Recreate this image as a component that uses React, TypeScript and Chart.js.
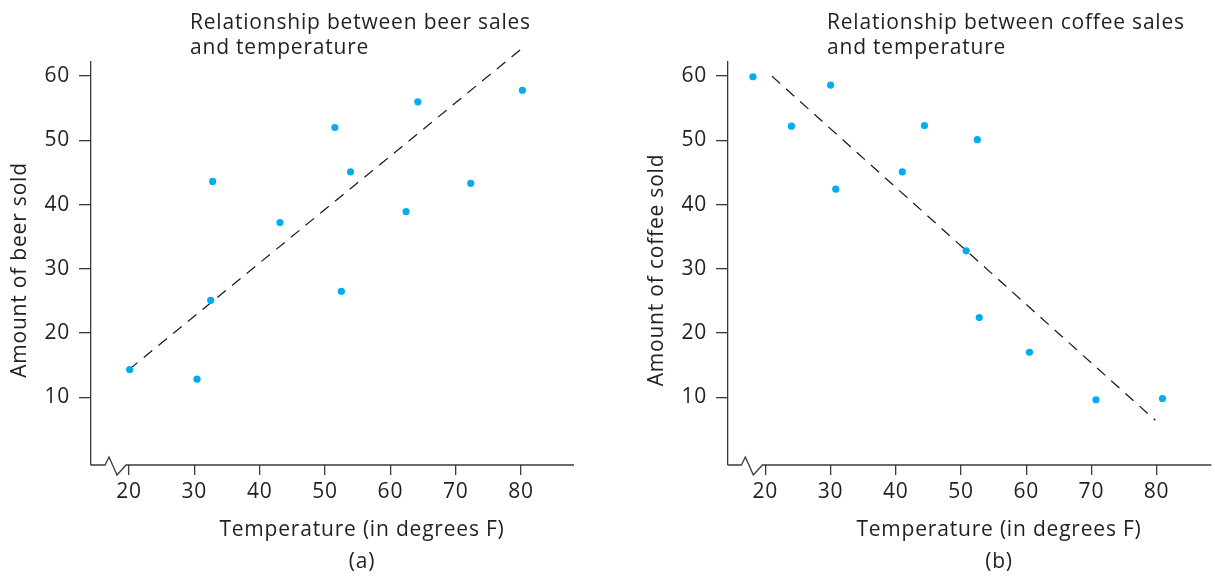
import React, { useEffect, useRef } from "react";
import { Chart, registerables } from "chart.js";

Chart.register(...registerables);

// ---- data ----
const xTickValues = [20, 30, 40, 50, 60, 70, 80];
const yTickValues = [10, 20, 30, 40, 50, 60];

const beerTemps = [20.1, 30.4, 32.5, 32.8, 43.1, 51.5, 52.5, 53.9, 62.4, 64.2, 72.3, 80.2];
const beerSold = [14.3, 12.8, 25.1, 43.6, 37.2, 52.0, 26.5, 45.1, 38.9, 56.0, 43.3, 57.8];
const beerTrendX = [20, 80.5];
const beerTrendY = [14.3, 64.6];

const coffeeTemps = [18.1, 24.0, 30.0, 30.8, 41.0, 44.4, 50.8, 52.5, 52.8, 60.5, 70.7, 80.9];
const coffeeSold = [59.9, 52.2, 58.6, 42.4, 45.1, 52.3, 32.8, 50.1, 22.4, 17.0, 9.6, 9.8];
const coffeeTrendX = [21, 79.8];
const coffeeTrendY = [60, 6.4];

const beerTitle = ["Relationship between beer sales", "and temperature"];
const coffeeTitle = ["Relationship between coffee sales", "and temperature"];
const xAxisTitle = "Temperature (in degrees F)";

// ---- styles ----
const FONT = "'Open Sans', sans-serif";
const FONT_SIZE = 21;
const SPACING = "0.8px";
const TEXT = "#231f20";
const AXIS = "#3a3a3a";
const DOT = "#00aeef";

const panelText = {
  id: "panelText",
  beforeDraw(chart: any) {
    (chart.ctx as any).letterSpacing = SPACING;
  },
  afterDraw(chart: any, _args: any, opts: any) {
    const { ctx, chartArea } = chart;
    const x = chart.scales.x;
    ctx.save();
    // x axis with break zigzag
    const y0 = chartArea.bottom;
    const p20 = x.getPixelForValue(xTickValues[0]);
    ctx.strokeStyle = AXIS;
    ctx.lineWidth = 1.3;
    ctx.beginPath();
    ctx.moveTo(chartArea.left, y0);
    ctx.lineTo(p20 - 24, y0);
    ctx.lineTo(p20 - 20, y0 - 8);
    ctx.lineTo(p20 - 12, y0 + 10);
    ctx.lineTo(p20 - 3, y0);
    ctx.lineTo(chartArea.right, y0);
    ctx.stroke();

    ctx.fillStyle = TEXT;
    ctx.font = `${FONT_SIZE}px ${FONT}`;
    // title
    ctx.textAlign = "left";
    ctx.textBaseline = "alphabetic";
    const tl = chartArea.left + 99;
    (opts.title as string[]).forEach((line, i) => {
      ctx.fillText(line, tl, 29 + i * 25);
    });
    // x title and caption
    ctx.textAlign = "center";
    ctx.textBaseline = "middle";
    const cx = chartArea.left + 271;
    ctx.fillText(opts.xTitle, cx, 530);
    ctx.fillText(opts.caption, cx, 562);
    // y title
    ctx.translate(chartArea.left - 71, 270);
    ctx.rotate(-Math.PI / 2);
    ctx.fillText(opts.yTitle, 0, 0);
    ctx.restore();
    (ctx as any).letterSpacing = "0px";
  },
};

type PanelProps = {
  left: number;
  width: number;
  xs: number[];
  ys: number[];
  tx: number[];
  ty: number[];
  title: string[];
  yTitle: string;
  caption: string;
  xMin: number;
  xMax: number;
  padRight: number;
};

function Panel(p: PanelProps) {
  const ref = useRef<HTMLCanvasElement>(null);
  useEffect(() => {
    const chart = new Chart(ref.current as HTMLCanvasElement, {
      type: "scatter",
      data: {
        datasets: [
          {
            data: p.xs.map((x, i) => ({ x, y: p.ys[i] })),
            backgroundColor: DOT,
            borderColor: DOT,
            pointRadius: 3.6,
            pointBorderWidth: 0,
            pointHoverRadius: 3.6,
          } as any,
          {
            type: "line",
            data: p.tx.map((x, i) => ({ x, y: p.ty[i] })),
            borderColor: "#1a1a1a",
            borderWidth: 1.25,
            borderDash: [11, 8],
            pointRadius: 0,
            showLine: true,
            fill: false,
            clip: false,
            tension: 0,
          } as any,
        ],
      },
      options: {
        responsive: false,
        animation: false,
        events: [],
        layout: { padding: { top: 62, right: p.padRight, bottom: 0, left: 0 } },
        plugins: {
          legend: { display: false },
          tooltip: { enabled: false },
          title: { display: false },
          panelText: { title: p.title, xTitle: xAxisTitle, caption: p.caption, yTitle: p.yTitle },
        } as any,
        scales: {
          x: {
            type: "linear",
            min: p.xMin,
            max: p.xMax,
            afterBuildTicks: (s: any) => {
              s.ticks = xTickValues.map((v) => ({ value: v }));
            },
            afterFit: (s: any) => {
              s.height = 111;
            },
            border: { display: false },
            grid: { drawOnChartArea: false, drawTicks: true, tickLength: 10, color: AXIS, lineWidth: 1.3 },
            ticks: { padding: 4, color: TEXT, font: { family: FONT, size: FONT_SIZE }, maxRotation: 0, autoSkip: false },
          },
          y: {
            type: "linear",
            min: -0.56,
            max: 62.2,
            afterBuildTicks: (s: any) => {
              s.ticks = yTickValues.map((v) => ({ value: v }));
            },
            afterFit: (s: any) => {
              s.width = 91;
            },
            border: { display: true, color: AXIS, width: 1.3 },
            grid: { drawOnChartArea: false, drawTicks: true, tickLength: 12, color: AXIS, lineWidth: 1.3 },
            ticks: { padding: 9, color: TEXT, font: { family: FONT, size: FONT_SIZE }, autoSkip: false },
          },
        },
      } as any,
      plugins: [panelText],
    });
    return () => chart.destroy();
  }, []);
  return (
    <canvas
      ref={ref}
      width={p.width}
      height={576}
      style={{ position: "absolute", left: p.left, top: 0, width: p.width, height: 576 }}
    />
  );
}

export default function App() {
  return (
    <div style={{ position: "absolute", left: 0, top: 0, width: 1215, height: 576, background: "#fff" }}>
      <Panel
        left={0}
        width={600}
        xs={beerTemps}
        ys={beerSold}
        tx={beerTrendX}
        ty={beerTrendY}
        title={beerTitle}
        yTitle="Amount of beer sold"
        caption="(a)"
        xMin={14.18}
        xMax={88.1}
        padRight={26}
      />
      <Panel
        left={637}
        width={578}
        xs={coffeeTemps}
        ys={coffeeSold}
        tx={coffeeTrendX}
        ty={coffeeTrendY}
        title={coffeeTitle}
        yTitle="Amount of coffee sold"
        caption="(b)"
        xMin={14.27}
        xMax={88.4}
        padRight={1}
      />
    </div>
  );
}
